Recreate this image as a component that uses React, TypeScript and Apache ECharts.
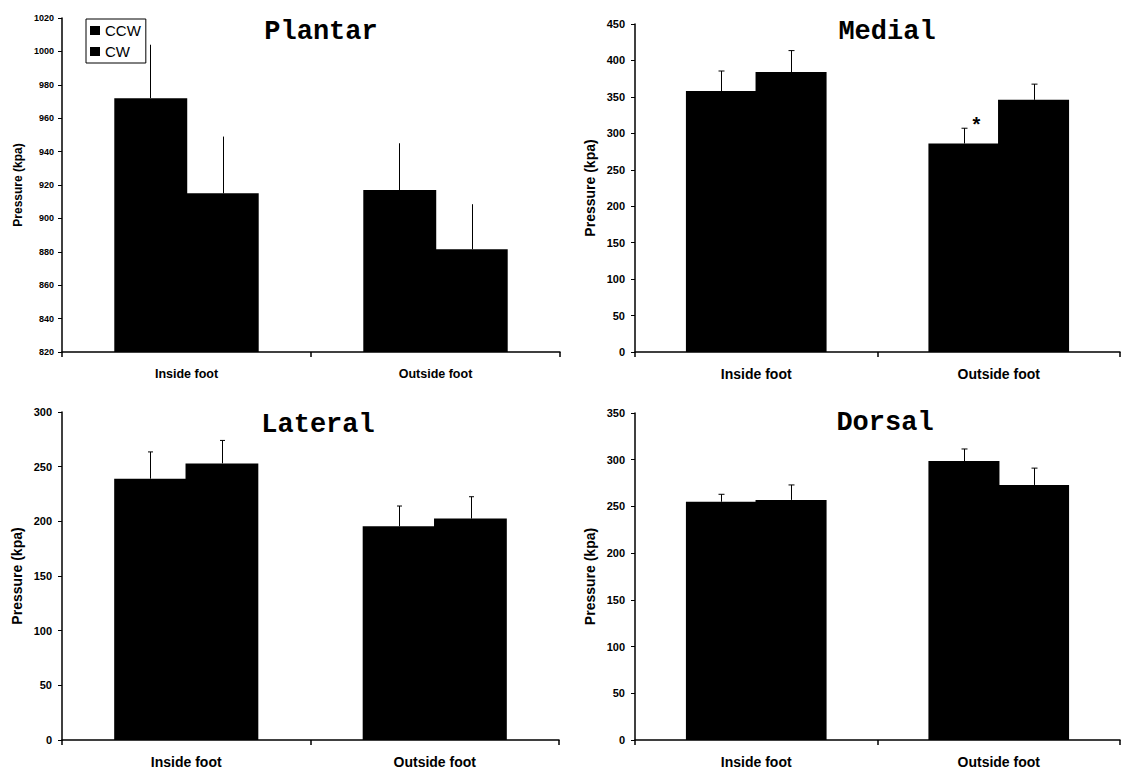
import React, { useEffect, useRef } from 'react';
import * as echarts from 'echarts';

const categories = ['Inside foot', 'Outside foot'];
const seriesNames = ['CCW', 'CW'];
const panelTitles = ['Plantar', 'Medial', 'Lateral', 'Dorsal'];
const yAxisTitle = 'Pressure (kpa)';

const plantarCCW = [972, 917];
const plantarCW = [915, 881.5];
const plantarCCWErr = [32, 28];
const plantarCWErr = [34, 27];

const medialCCW = [358, 286];
const medialCW = [384, 346];
const medialCCWErr = [27.5, 21];
const medialCWErr = [29.5, 21.5];

const lateralCCW = [239, 195.5];
const lateralCW = [253, 202.5];
const lateralCCWErr = [24.5, 18.5];
const lateralCWErr = [21, 20];

const dorsalCCW = [255, 298.5];
const dorsalCW = [257, 273];
const dorsalCCWErr = [8, 13];
const dorsalCWErr = [16, 18];

const yMins = [820, 0, 0, 0];
const yMaxs = [1020, 450, 300, 350];
const yIntervals = [20, 50, 50, 50];

// significance marks: [panelIndex, categoryIndex, seriesIndex]
const significance = [[1, 1, 0]];

const panelValues = [
  [plantarCCW, plantarCW],
  [medialCCW, medialCW],
  [lateralCCW, lateralCW],
  [dorsalCCW, dorsalCW],
];
const panelErrors = [
  [plantarCCWErr, plantarCWErr],
  [medialCCWErr, medialCWErr],
  [lateralCCWErr, lateralCWErr],
  [dorsalCCWErr, dorsalCWErr],
];

// layout / style
const grids = [
  { left: 62, top: 18, width: 498, height: 334 },
  { left: 635, top: 24, width: 485, height: 328 },
  { left: 62, top: 412, width: 497, height: 328 },
  { left: 635, top: 413, width: 485, height: 327 },
];
const titlePos = [[321, 32], [887, 32], [318, 425], [885, 423]];
const tickLabelSize = [9, 11, 11, 11];
const tickLabelMargin = [8, 10, 10, 10];
const nameSize = [12, 14, 14, 14];
const catSize = [12.5, 14, 14, 14];
const capWidth = [0, 6, 5, 6];
const FONT = 'Liberation Sans, Arial, sans-serif';
const CAT_GAP = 0.42;

function makeRenderItem(panel: number) {
  return (params: any, api: any) => {
    const cat = api.value(0);
    const v = api.value(1);
    const e = api.value(2);
    const s = api.value(3);
    const sig = api.value(4);
    const band = api.size([1, 0])[0];
    const base = api.coord([cat, v]);
    const top = api.coord([cat, v + e]);
    const off = (s === 0 ? -1 : 1) * band * (1 - CAT_GAP) / 4;
    const x = Math.round(base[0] + off) + 0.5;
    const children: any[] = [
      {
        type: 'line',
        shape: { x1: x, y1: base[1], x2: x, y2: top[1] },
        style: { stroke: '#000', lineWidth: 1 },
      },
    ];
    const cw = capWidth[panel];
    if (cw > 0) {
      children.push({
        type: 'line',
        shape: { x1: x - cw / 2, y1: top[1], x2: x + cw / 2, y2: top[1] },
        style: { stroke: '#000', lineWidth: 1 },
      });
    }
    if (sig) {
      children.push({
        type: 'text',
        x: x + 12,
        y: top[1] - 4,
        style: {
          text: '*',
          fill: '#000',
          fontSize: 20,
          fontWeight: 'bold',
          fontFamily: FONT,
          align: 'center',
          verticalAlign: 'middle',
        },
      });
    }
    return { type: 'group', children };
  };
}

export default function App() {
  const ref = useRef<HTMLDivElement>(null);
  useEffect(() => {
    if (!ref.current) return;
    const chart = echarts.init(ref.current, undefined, { renderer: 'svg' });
    const series: any[] = [];
    for (let p = 0; p < 4; p++) {
      for (let s = 0; s < 2; s++) {
        series.push({
          type: 'bar',
          name: seriesNames[s],
          xAxisIndex: p,
          yAxisIndex: p,
          data: panelValues[p][s],
          barGap: '-2%',
          barCategoryGap: CAT_GAP * 100 + '%',
          clip: true,
          itemStyle: { color: '#000' },
          silent: true,
        });
      }
      const errData: any[] = [];
      for (let s = 0; s < 2; s++) {
        for (let c = 0; c < categories.length; c++) {
          const isSig = significance.some((m) => m[0] === p && m[1] === c && m[2] === s) ? 1 : 0;
          errData.push({ value: [c, panelValues[p][s][c], panelErrors[p][s][c], s, isSig] });
        }
      }
      series.push({
        type: 'custom',
        xAxisIndex: p,
        yAxisIndex: p,
        renderItem: makeRenderItem(p),
        encode: { x: 0, y: 1 },
        data: errData,
        z: 5,
        silent: true,
      });
    }
    const option: any = {
      animation: false,
      backgroundColor: '#fff',
      grid: grids.map((g) => ({ ...g, containLabel: false })),
      legend: {
        left: 86,
        top: 19,
        orient: 'vertical',
        data: seriesNames.map((n) => ({ name: n, icon: 'rect' })),
        itemWidth: 10,
        itemHeight: 9,
        itemGap: 6,
        itemTextGap: 3,
        padding: [4, 5, 4, 4],
        borderColor: '#000',
        borderWidth: 1,
        selectedMode: false,
        textStyle: { fontSize: 15, fontFamily: FONT, color: '#000' },
      },
      xAxis: grids.map((_, i) => ({
        type: 'category',
        gridIndex: i,
        data: categories,
        axisLine: { lineStyle: { color: '#000', width: 1.5 } },
        axisTick: { show: true, length: 5, lineStyle: { color: '#000', width: 1.5 } },
        axisLabel: {
          color: '#000',
          fontWeight: 'bold',
          fontFamily: FONT,
          fontSize: catSize[i],
          margin: 15,
        },
        splitLine: { show: false },
      })),
      yAxis: grids.map((_, i) => ({
        type: 'value',
        gridIndex: i,
        min: yMins[i],
        max: yMaxs[i],
        interval: yIntervals[i],
        name: yAxisTitle,
        nameLocation: 'middle',
        nameGap: 38,
        nameRotate: 90,
        nameTextStyle: { color: '#000', fontWeight: 'bold', fontFamily: FONT, fontSize: nameSize[i] },
        axisLine: { show: true, lineStyle: { color: '#000', width: 1.5 } },
        axisTick: { show: true, length: 4, lineStyle: { color: '#000', width: 1 } },
        axisLabel: {
          color: '#000',
          fontWeight: 'bold',
          fontFamily: FONT,
          fontSize: tickLabelSize[i],
          margin: tickLabelMargin[i],
          formatter: (v: number) => String(v),
        },
        splitLine: { show: false },
      })),
      graphic: panelTitles.map((t, i) => ({
        type: 'text',
        x: titlePos[i][0],
        y: titlePos[i][1],
        style: {
          text: t,
          fill: '#000',
          fontSize: 27,
          fontWeight: 'bold',
          fontFamily: 'Liberation Mono, Courier New, monospace',
          align: 'center',
          verticalAlign: 'middle',
        },
      })),
      series,
    };
    chart.setOption(option);
    return () => chart.dispose();
  }, []);
  return (
    <div
      ref={ref}
      style={{ position: 'absolute', left: 0, top: 0, width: 1123, height: 771, background: '#fff' }}
    />
  );
}
